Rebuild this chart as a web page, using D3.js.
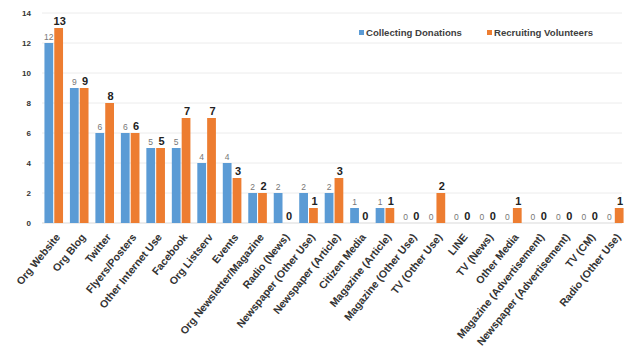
<!DOCTYPE html>
<html>
<head>
<meta charset="utf-8">
<script src="https://cdn.jsdelivr.net/npm/d3@7/dist/d3.min.js"></script>
<style>
  html, body { margin: 0; padding: 0; background: #fff; }
  svg { display: block; }
</style>
</head>
<body>
<svg id="chart" width="627" height="354"></svg>
<script>
// Media channels used, counts per purpose
const categories = [
  "Org Website", "Org Blog", "Twitter", "Flyers/Posters", "Other Internet Use",
  "Facebook", "Org Listserv", "Events", "Org Newsletter/Magazine", "Radio (News)",
  "Newspaper (Other Use)", "Newspaper (Article)", "Citizen Media", "Magazine (Article)",
  "Magazine (Other Use)", "TV (Other Use)", "LINE", "TV (News)", "Other Media",
  "Magazine (Advertisement)", "Newspaper (Advertisement)", "TV (CM)", "Radio (Other Use)"
];
const collectingDonations = [12, 9, 6, 6, 5, 5, 4, 4, 2, 2, 2, 2, 1, 1, 0, 0, 0, 0, 0, 0, 0, 0, 0];
const recruitingVolunteers = [13, 9, 8, 6, 5, 7, 7, 3, 2, 0, 1, 3, 0, 1, 0, 2, 0, 0, 1, 0, 0, 0, 1];
const seriesNames = ["Collecting Donations", "Recruiting Volunteers"];
const seriesColors = ["#5B9BD5", "#ED7D31"];
const yTicks = [0, 2, 4, 6, 8, 10, 12, 14];

const svg = d3.select("#chart");
const font = "'Liberation Sans', Arial, sans-serif";

const x = d3.scaleBand().domain(categories).range([41, 627]).paddingInner(0.27).paddingOuter(0.135);
const xs = d3.scaleBand().domain([0, 1]).range([0, x.bandwidth()]).paddingInner(0.11);
const y = d3.scaleLinear().domain([0, 14]).range([223, 13]);

// horizontal gridlines
svg.append("g")
  .selectAll("line")
  .data(yTicks)
  .join("line")
  .attr("x1", 42).attr("x2", 622)
  .attr("y1", d => y(d)).attr("y2", d => y(d))
  .attr("stroke", d => d === 0 ? "#d9d9d9" : "#ececec")
  .attr("stroke-width", 1);

// y axis labels
const yAxis = d3.axisLeft(y).tickValues(yTicks).tickSize(0).tickPadding(0);
const yg = svg.append("g").attr("transform", "translate(31,0)").call(yAxis);
yg.select(".domain").remove();
yg.selectAll("text")
  .attr("font-family", font).attr("font-size", 8).attr("font-weight", "bold").attr("fill", "#333");

// x axis labels, rotated
const xAxis = d3.axisBottom(x).tickSize(0).tickPadding(0);
const xg = svg.append("g").attr("transform", "translate(0,231)").call(xAxis);
xg.select(".domain").remove();
xg.selectAll("text")
  .attr("font-family", font).attr("font-size", 10.6).attr("font-weight", "bold").attr("fill", "#333")
  .attr("text-anchor", "end")
  .attr("dy", "0.35em")
  .attr("transform", "translate(4,4) rotate(-51)");

const series = [collectingDonations, recruitingVolunteers];

series.forEach((vals, si) => {
  const g = svg.append("g");
  g.selectAll("rect")
    .data(vals)
    .join("rect")
    .attr("x", (d, i) => x(categories[i]) + xs(si))
    .attr("width", xs.bandwidth())
    .attr("y", d => y(d))
    .attr("height", d => y(0) - y(d))
    .attr("fill", seriesColors[si]);

  g.selectAll("text")
    .data(vals)
    .join("text")
    .attr("x", (d, i) => x(categories[i]) + xs(si) + xs.bandwidth() / 2 + (si === 1 ? 1 : 0))
    .attr("y", d => y(d) - 3)
    .attr("text-anchor", "middle")
    .attr("font-family", font)
    .attr("font-size", si === 0 ? 8.5 : 11)
    .attr("font-weight", si === 0 ? "normal" : "bold")
    .attr("fill", si === 0 ? "#777" : "#222")
    .text(d => d);
});

// legend
const legend = svg.append("g").attr("transform", "translate(359,33)");
const legendX = [0, 128];
seriesNames.forEach((name, i) => {
  const lg = legend.append("g").attr("transform", `translate(${legendX[i]},0)`);
  lg.append("rect").attr("x", 0).attr("y", -3).attr("width", 5).attr("height", 5).attr("fill", seriesColors[i]);
  lg.append("text").attr("x", 7).attr("y", 0).attr("dy", "0.35em")
    .attr("font-family", font).attr("font-size", 9.6).attr("font-weight", "bold").attr("fill", "#404040")
    .text(name);
});
</script>
</body>
</html>
